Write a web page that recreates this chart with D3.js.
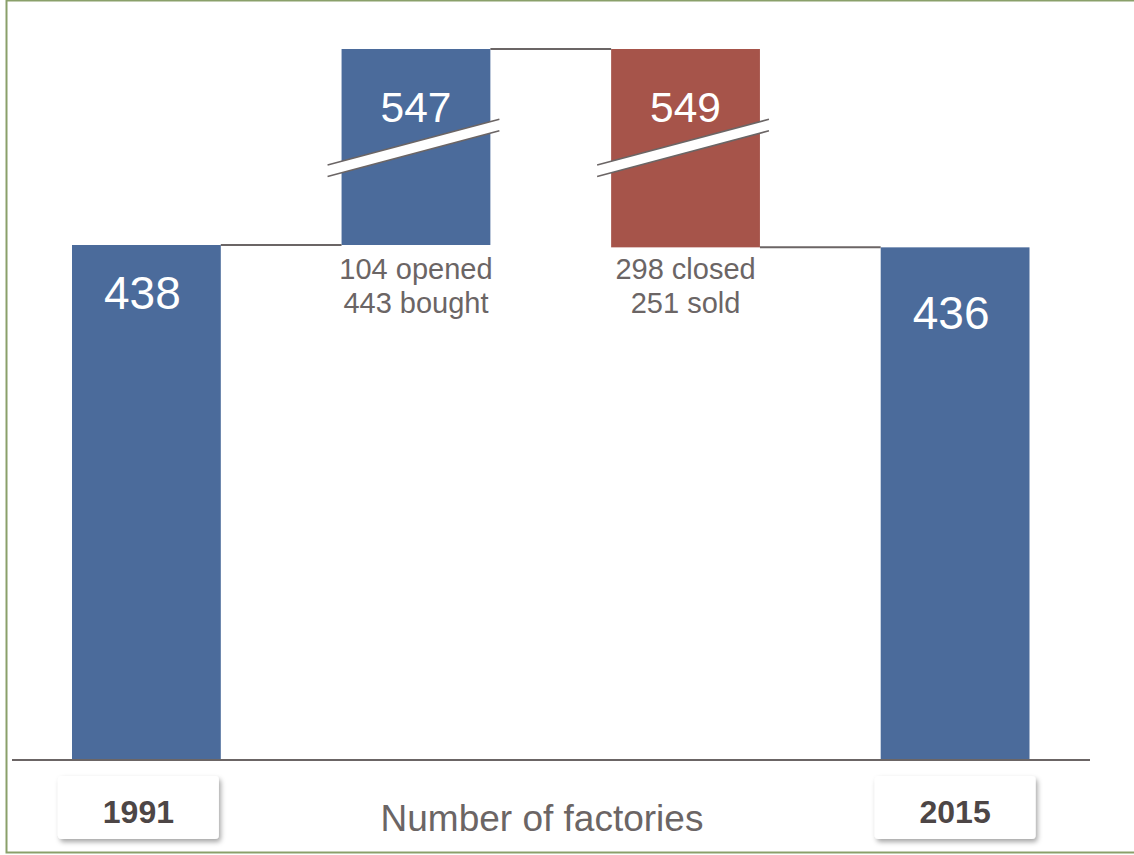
<!DOCTYPE html>
<html>
<head>
<meta charset="utf-8">
<script src="https://cdn.jsdelivr.net/npm/d3@7"></script>
<style>
  html, body { margin: 0; padding: 0; background: #fff; }
  svg { display: block; font-family: "Liberation Sans", Arial, sans-serif; }
</style>
</head>
<body>
<svg id="chart" width="1134" height="855"></svg>
<script>
// Waterfall: factories at start, additions, removals, factories at end
const categories = ["1991", "added", "removed", "2015"];
const kinds = ["total", "increase", "decrease", "total"];
const values = [438, 547, 549, 436];
const valueLabels = ["438", "547", "549", "436"];
const noteLines = [[], ["104 opened", "443 bought"], ["298 closed", "251 sold"], []];
const yearLabels = ["1991", null, null, "2015"];
const axisTitle = "Number of factories";

const colors = { total: "#4b6b9b", increase: "#4b6b9b", decrease: "#a6544a" };
const grey = "#6b6565";

const svg = d3.select("#chart");
const W = 1134, H = 855;

// Compute running start/end of each step
let running = 0;
const steps = categories.map((c, i) => {
  let y0, y1;
  if (kinds[i] === "total") { y0 = 0; y1 = values[i]; running = values[i]; }
  else if (kinds[i] === "increase") { y0 = running; y1 = running + values[i]; running = y1; }
  else { y0 = running - values[i]; y1 = running; running = y0; }
  return { i, cat: c, kind: kinds[i], y0, y1, label: valueLabels[i], notes: noteLines[i], year: yearLabels[i] };
});
const peak = d3.max(steps, d => d.y1);

// Frame
svg.append("rect")
  .attr("x", 6.5).attr("y", 0.5).attr("width", W + 10).attr("height", 852)
  .attr("fill", "none").attr("stroke", "#8aa06a").attr("stroke-width", 2);

const x = d3.scaleBand().domain(categories).range([72, 1029.5]).paddingInner(0.448).paddingOuter(0);
// Broken value axis: normal scale up to the starting total, compressed above it
const y = d3.scaleLinear().domain([0, steps[0].y1, peak]).range([760, 245, 49]);

const defs = svg.append("defs");
const f = defs.append("filter").attr("id", "shadow").attr("x", "-20%").attr("y", "-30%").attr("width", "150%").attr("height", "170%");
f.append("feDropShadow").attr("dx", 2).attr("dy", 3).attr("stdDeviation", 2.5)
  .attr("flood-color", "#000").attr("flood-opacity", 0.35);

// Bars
svg.append("g").selectAll("rect").data(steps).join("rect")
  .attr("x", d => x(d.cat))
  .attr("y", d => y(d.y1))
  .attr("width", x.bandwidth())
  .attr("height", d => y(d.y0) - y(d.y1))
  .attr("fill", d => colors[d.kind]);

// Connectors between consecutive bars
const conn = svg.append("g").attr("stroke", grey).attr("stroke-width", 2);
for (let i = 0; i < steps.length - 1; i++) {
  const a = steps[i], b = steps[i + 1];
  const level = a.kind === "decrease" ? a.y0 : a.y1;
  conn.append("line")
    .attr("x1", x(a.cat) + x.bandwidth()).attr("x2", x(b.cat))
    .attr("y1", y(level)).attr("y2", y(level));
}

// Axis baseline
svg.append("line").attr("x1", 12).attr("x2", 1090).attr("y1", 760).attr("y2", 760)
  .attr("stroke", grey).attr("stroke-width", 2);

// Break marks on the floating bars
steps.filter(d => d.kind !== "total").forEach(d => {
  const xl = x(d.cat) - 14, xr = x(d.cat) + x.bandwidth() + 9;
  const yl = 165, yr = 119.3, gap = 11.5;
  const g = svg.append("g");
  g.append("path")
    .attr("d", `M${xl},${yl} L${xr},${yr} L${xr},${yr + gap} L${xl},${yl + gap} Z`)
    .attr("fill", "#fff");
  [0, gap].forEach(o => g.append("line")
    .attr("x1", xl).attr("y1", yl + o).attr("x2", xr).attr("y2", yr + o)
    .attr("stroke", grey).attr("stroke-width", 1.6));
});

// Value labels inside bars
const totalLabelDy = [64, 0, 0, 82];
svg.append("g").selectAll("text").data(steps).join("text")
  .attr("x", d => x(d.cat) + x.bandwidth() / 2 - (d.kind === "total" ? 4 : 0))
  .attr("y", d => d.kind === "total" ? y(d.y1) + totalLabelDy[d.i] : 122)
  .attr("text-anchor", "middle")
  .attr("fill", "#fff").attr("font-size", d => d.kind === "total" ? 46 : 42.5)
  .text(d => d.label);

// Notes under the floating bars
steps.forEach(d => {
  d.notes.forEach((t, j) => {
    svg.append("text")
      .attr("x", x(d.cat) + x.bandwidth() / 2)
      .attr("y", 278.5 + j * 34.5)
      .attr("text-anchor", "middle")
      .attr("fill", grey).attr("font-size", 29)
      .text(t);
  });
});

// Year boxes
steps.filter(d => d.year).forEach((d, i) => {
  const cx = x(d.cat) + x.bandwidth() / 2 - (i === 0 ? 8 : 0);
  const g = svg.append("g");
  g.append("rect").attr("x", cx - 80.5).attr("y", 776).attr("width", 161).attr("height", 63)
    .attr("rx", 4).attr("fill", "#fff").attr("filter", "url(#shadow)");
  g.append("text").attr("x", cx).attr("y", 823).attr("text-anchor", "middle")
    .attr("font-size", 32).attr("font-weight", "bold").attr("fill", "#4d4646")
    .text(d.year);
});

// Axis title
svg.append("text").attr("x", 542).attr("y", 831).attr("text-anchor", "middle")
  .attr("font-size", 37).attr("fill", grey).text(axisTitle);
</script>
</body>
</html>
